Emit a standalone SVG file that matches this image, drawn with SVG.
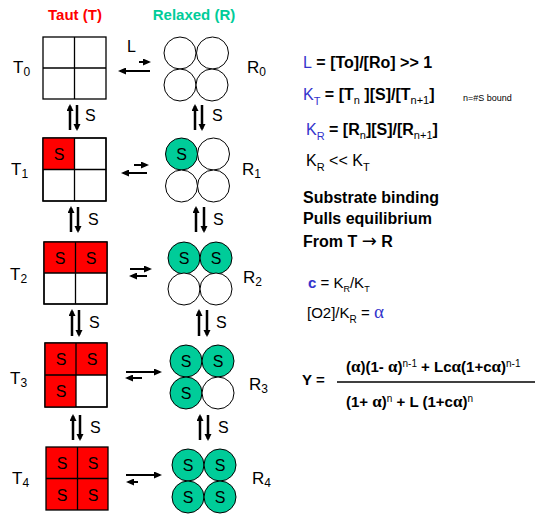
<svg xmlns="http://www.w3.org/2000/svg" width="543" height="516" viewBox="0 0 543 516">
<style>
text{font-family:"Liberation Sans",Arial,sans-serif;fill:#000}
.title{font-size:15px;font-weight:bold}
.lab{font-size:17px}
.sub{font-size:12px}
.cell{fill:#fff;stroke:#000;stroke-width:1.3}
.tf{fill:#ff0000}
.circ{fill:#fff;stroke:#000;stroke-width:1}
.s{font-size:16px;text-anchor:middle}
.arr{stroke:#000;stroke-width:2;fill:none;marker-end:url(#ah)}
.varr{stroke:#000;stroke-width:2.5;fill:none;marker-end:url(#av)}
.vs{font-size:16px}
.eq{font-size:16px;font-weight:bold}
.blue{fill:#3333cc}
.f{font-size:15px;font-weight:bold}
.sup{font-size:10px;font-weight:normal}
.gr{font-family:"Liberation Serif","Times New Roman",serif;font-size:17px}
</style>
<defs>
<marker id="ah" markerWidth="8" markerHeight="7" refX="6" refY="3.5" orient="auto" markerUnits="userSpaceOnUse"><path d="M0,0 L8,3.5 L0,7 z" fill="#000"/></marker>
<marker id="av" markerWidth="7" markerHeight="8" refX="5" refY="3.5" orient="auto" markerUnits="userSpaceOnUse"><path d="M0,0 L7,3.5 L0,7 z" fill="#000"/></marker>
</defs>
<rect width="543" height="516" fill="#fff"/>
<text class="title" x="75" y="20" text-anchor="middle" style="fill:#ff0000">Taut (T)</text>
<text class="title" x="194" y="20" text-anchor="middle" style="fill:#00cc99">Relaxed (R)</text>

<g id="T0">
<rect class="cell" x="43" y="37" width="63" height="62"/>
<line x1="74.5" y1="37" x2="74.5" y2="99" stroke="#000" stroke-width="1.3"/>
<line x1="43" y1="68" x2="106" y2="68" stroke="#000" stroke-width="1.3"/>
<text class="lab" x="13" y="73">T<tspan class="sub" dy="3">0</tspan></text>
</g>
<g id="T1">
<rect class="cell" x="43" y="138" width="63" height="63"/>
<rect class="tf" x="43" y="138" width="31.5" height="31.5"/>
<rect class="cell" x="43" y="138" width="63" height="63" style="fill:none"/>
<line x1="74.5" y1="138" x2="74.5" y2="201" stroke="#000" stroke-width="1.3"/>
<line x1="43" y1="169.5" x2="106" y2="169.5" stroke="#000" stroke-width="1.3"/>
<text class="s" x="59" y="160">S</text>
<text class="lab" x="11" y="175">T<tspan class="sub" dy="3">1</tspan></text>
</g>
<g id="T2">
<rect class="cell" x="44" y="242" width="63" height="62"/>
<rect class="tf" x="44" y="242" width="63" height="31"/>
<rect class="cell" x="44" y="242" width="63" height="62" style="fill:none"/>
<line x1="75.5" y1="242" x2="75.5" y2="304" stroke="#000" stroke-width="1.3"/>
<line x1="44" y1="273" x2="107" y2="273" stroke="#000" stroke-width="1.3"/>
<text class="s" x="60" y="264">S</text>
<text class="s" x="91" y="264">S</text>
<text class="lab" x="10" y="280">T<tspan class="sub" dy="3">2</tspan></text>
</g>
<g id="T3">
<rect class="cell" x="45" y="343" width="62" height="64"/>
<rect class="tf" x="45" y="343" width="62" height="32"/>
<rect class="tf" x="45" y="375" width="31" height="32"/>
<rect class="cell" x="45" y="343" width="62" height="64" style="fill:none"/>
<line x1="76" y1="343" x2="76" y2="407" stroke="#000" stroke-width="1.3"/>
<line x1="45" y1="375" x2="107" y2="375" stroke="#000" stroke-width="1.3"/>
<text class="s" x="61" y="365">S</text>
<text class="s" x="92" y="365">S</text>
<text class="s" x="61" y="397">S</text>
<text class="lab" x="10" y="384">T<tspan class="sub" dy="3">3</tspan></text>
</g>
<g id="T4">
<rect class="cell" x="46" y="447" width="62" height="63" style="fill:#ff0000"/>
<line x1="77.5" y1="447" x2="77.5" y2="510" stroke="#000" stroke-width="1.3"/>
<line x1="46" y1="478.5" x2="108" y2="478.5" stroke="#000" stroke-width="1.3"/>
<text class="s" x="62" y="469">S</text>
<text class="s" x="93" y="469">S</text>
<text class="s" x="62" y="501">S</text>
<text class="s" x="93" y="501">S</text>
<text class="lab" x="12" y="484">T<tspan class="sub" dy="3">4</tspan></text>
</g>

<g id="R0">
<circle class="circ" cx="180" cy="53" r="16"/>
<circle class="circ" cx="212.5" cy="53" r="16"/>
<circle class="circ" cx="180" cy="85" r="16"/>
<circle class="circ" cx="212" cy="85" r="16"/>
<text class="lab" x="247" y="73">R<tspan class="sub" dy="3">0</tspan></text>
</g>
<g id="R1">
<circle class="circ" cx="181.5" cy="154" r="16" style="fill:#00cc99"/>
<circle class="circ" cx="213.5" cy="154" r="16"/>
<circle class="circ" cx="181.5" cy="186" r="16"/>
<circle class="circ" cx="213.5" cy="186" r="16"/>
<text class="s" x="181.5" y="160">S</text>
<text class="lab" x="242" y="175">R<tspan class="sub" dy="3">1</tspan></text>
</g>
<g id="R2">
<circle class="circ" cx="184" cy="258" r="16" style="fill:#00cc99"/>
<circle class="circ" cx="216" cy="258" r="16" style="fill:#00cc99"/>
<circle class="circ" cx="184" cy="289" r="16"/>
<circle class="circ" cx="216" cy="289" r="16"/>
<text class="s" x="184" y="264">S</text>
<text class="s" x="216" y="264">S</text>
<text class="lab" x="243" y="283">R<tspan class="sub" dy="3">2</tspan></text>
</g>
<g id="R3">
<circle class="circ" cx="186" cy="361" r="16" style="fill:#00cc99"/>
<circle class="circ" cx="218" cy="361" r="16" style="fill:#00cc99"/>
<circle class="circ" cx="186" cy="393" r="16" style="fill:#00cc99"/>
<circle class="circ" cx="218" cy="393" r="16"/>
<text class="s" x="186" y="367">S</text>
<text class="s" x="218" y="367">S</text>
<text class="s" x="186" y="399">S</text>
<text class="lab" x="249" y="390">R<tspan class="sub" dy="3">3</tspan></text>
</g>
<g id="R4">
<circle class="circ" cx="188" cy="465" r="16" style="fill:#00cc99"/>
<circle class="circ" cx="220" cy="465" r="16" style="fill:#00cc99"/>
<circle class="circ" cx="188" cy="497" r="16" style="fill:#00cc99"/>
<circle class="circ" cx="220" cy="497" r="16" style="fill:#00cc99"/>
<text class="s" x="188" y="471">S</text>
<text class="s" x="220" y="471">S</text>
<text class="s" x="188" y="503">S</text>
<text class="s" x="220" y="503">S</text>
<text class="lab" x="252" y="484">R<tspan class="sub" dy="3">4</tspan></text>
</g>

<g id="connectors">
<text class="vs" x="127" y="52">L</text>
<line class="arr" x1="139" y1="62" x2="149" y2="62"/>
<line class="arr" x1="150" y1="71" x2="120" y2="71"/>
<line class="arr" x1="134" y1="165" x2="147" y2="165"/>
<line class="arr" x1="147" y1="173" x2="123" y2="173"/>
<line class="arr" x1="130" y1="269" x2="150" y2="269"/>
<line class="arr" x1="147" y1="276" x2="131" y2="276"/>
<line class="arr" x1="126" y1="372" x2="160" y2="372"/>
<line class="arr" x1="142" y1="378" x2="127" y2="378"/>
<line class="arr" x1="126" y1="475" x2="160" y2="475"/>
<line class="arr" x1="138" y1="482" x2="128" y2="482"/>

<line class="varr" x1="70" y1="130" x2="70" y2="106"/>
<line class="varr" x1="77" y1="105" x2="77" y2="129"/>
<text class="vs" x="85" y="121">S</text>
<line class="varr" x1="195" y1="130" x2="195" y2="106"/>
<line class="varr" x1="202" y1="105" x2="202" y2="129"/>
<text class="vs" x="212" y="121">S</text>

<line class="varr" x1="71" y1="232" x2="71" y2="208"/>
<line class="varr" x1="78" y1="207" x2="78" y2="231"/>
<text class="vs" x="88" y="225">S</text>
<line class="varr" x1="196" y1="232" x2="196" y2="208"/>
<line class="varr" x1="204" y1="207" x2="204" y2="231"/>
<text class="vs" x="213" y="225">S</text>

<line class="varr" x1="72" y1="336" x2="72" y2="311"/>
<line class="varr" x1="79" y1="310" x2="79" y2="335"/>
<text class="vs" x="89" y="328">S</text>
<line class="varr" x1="199" y1="336" x2="199" y2="311"/>
<line class="varr" x1="207" y1="310" x2="207" y2="335"/>
<text class="vs" x="216" y="328">S</text>

<line class="varr" x1="73" y1="440" x2="73" y2="416"/>
<line class="varr" x1="80" y1="415" x2="80" y2="439"/>
<text class="vs" x="90" y="433">S</text>
<line class="varr" x1="200" y1="440" x2="200" y2="416"/>
<line class="varr" x1="208" y1="415" x2="208" y2="439"/>
<text class="vs" x="218" y="433">S</text>
</g>

<g id="equations">
<text class="eq" x="303" y="68"><tspan class="blue" font-weight="normal">L</tspan> = [To]/[Ro] &gt;&gt; 1</text>
<text class="eq" x="303" y="100"><tspan class="blue" font-weight="normal">K</tspan><tspan class="blue" font-size="11" font-weight="normal" dy="5">T</tspan><tspan dy="-5"> = [T</tspan><tspan font-size="11" font-weight="normal" dy="4">n</tspan><tspan dy="-4"> ][S]/[T</tspan><tspan font-size="11" font-weight="normal" dy="4">n+1</tspan><tspan dy="-4">]</tspan></text>
<text x="463" y="101" font-size="9">n=#S bound</text>
<text class="eq" x="306" y="135"><tspan class="blue" font-weight="normal">K</tspan><tspan class="blue" font-size="11" font-weight="normal" dy="5">R</tspan><tspan dy="-5"> = [R</tspan><tspan font-size="11" font-weight="normal" dy="4">n</tspan><tspan dy="-4">][S]/[R</tspan><tspan font-size="11" font-weight="normal" dy="4">n+1</tspan><tspan dy="-4">]</tspan></text>
<text x="306" y="166" font-size="16">K<tspan font-size="11" dy="5">R</tspan><tspan dy="-5"> &lt;&lt; K</tspan><tspan font-size="11" dy="5">T</tspan></text>
<text class="eq" x="303" y="203">Substrate binding</text>
<text class="eq" x="303" y="224">Pulls equilibrium</text>
<text class="eq" x="303" y="247">From T <tspan font-family="'DejaVu Sans',sans-serif" font-weight="normal" font-size="18">→</tspan> R</text>
<text x="308" y="288" font-size="15"><tspan class="blue" font-weight="bold">c</tspan> = K<tspan font-size="9" dy="4">R</tspan><tspan dy="-4">/K</tspan><tspan font-size="9" dy="4">T</tspan></text>
<text x="307" y="318" font-size="15">[O2]/K<tspan font-size="10" dy="5">R</tspan><tspan dy="-5"> = </tspan><tspan class="blue" font-family="'Liberation Serif',serif" font-size="19">α</tspan></text>

<text class="f" x="302" y="385" font-size="15">Y =</text>
<text class="f" x="346" y="372">(<tspan class="gr">α</tspan>)(1- <tspan class="gr">α</tspan>)<tspan class="sup" dy="-5">n-1</tspan><tspan dy="5">   + Lc</tspan><tspan class="gr">α</tspan>(1+c<tspan class="gr">α</tspan>)<tspan class="sup" dy="-5">n-1</tspan></text>
<line x1="337" y1="382" x2="535" y2="382" stroke="#000" stroke-width="1.5"/>
<text class="f" x="346" y="407">(1+ <tspan class="gr">α</tspan>)<tspan class="sup" dy="-5">n</tspan><tspan dy="5">  + L (1+c</tspan><tspan class="gr">α</tspan>)<tspan class="sup" dy="-5">n</tspan></text>
</g>
</svg>
